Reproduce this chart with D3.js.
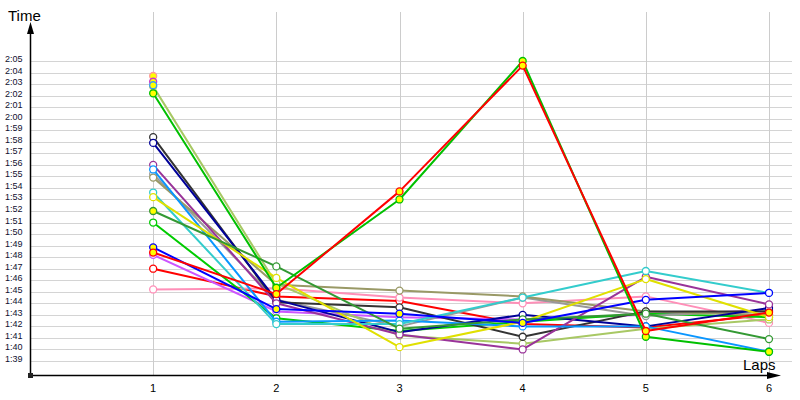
<!DOCTYPE html>
<html><head><meta charset="utf-8">
<script src="https://cdn.jsdelivr.net/npm/d3@7"></script>
<style>html,body{margin:0;padding:0;background:#fff;} svg{display:block;}</style>
</head><body><svg id="c" width="800" height="400"></svg>
<script>
// ---- data ----
const laps = [1, 2, 3, 4, 5, 6];
const yTickSeconds = d3.range(99, 126);          // 1:39 ... 2:05
const seriesNames = ["red2","pink","violet","limeHollow","gray","khaki","lightOlive","darkGray","navy","purple","dodger","cyan","yellow","forest","blue","orange","magenta","lightBlue","lime","red"];
const seriesColors = ["#ff0000","#ff8fb8","#cc55ff","#00cc00","#999999","#999966","#a8c864","#333333","#000099","#993399","#0a96ff","#33cccc","#e0e000","#339933","#0000ff","#ff9999","#cc33cc","#3399ff","#00c000","#ff0000"];
const seriesValues = [
  [107.0, 104.6, 104.2, 102.2, 101.9, 103.0],
  [105.2, 105.3, 104.5, 104.0, 104.6, 102.3],
  [108.2, 103.3, 102.8, 102.6, 103.0, 103.4],
  [111.0, 102.7, 101.6, 102.4, 103.1, 102.8],
  [115.2, 104.3, 102.0, 104.5, 102.9, 103.4],
  [114.9, 105.6, 105.1, 104.6, 103.3, 103.0],
  [122.8, 105.7, 101.2, 100.5, 101.8, 102.6],
  [118.4, 104.1, 103.65, 101.1, 103.3, 103.3],
  [117.9, 104.3, 101.5, 103.0, 102.0, 103.6],
  [116.0, 104.0, 101.3, 100.0, 106.3, 103.9],
  [115.6, 102.4, 102.5, 102.0, 102.0, 99.8],
  [113.6, 102.2, 102.2, 104.5, 106.8, 104.9],
  [113.2, 106.2, 100.2, 102.4, 106.1, 102.8],
  [112.0, 107.2, 101.8, 102.6, 103.1, 100.9],
  [108.85, 103.5, 103.1, 102.3, 104.3, 104.9],
  [123.7],
  [123.2],
  [122.9],
  [122.2, 105.35, 113.0, 125.0, 101.1, 99.8],
  [108.4, 104.8, 113.7, 124.6, 101.6, 103.2]
];
// lap indices whose marker is filled yellow
const highlightedLaps = [[],[],[],[],[],[],[],[],[],[],[],[],[],[0],[0,1,2,3],[0],[0],[0],[0,1,2,3,4,5],[0,1,2,3,4,5]];
const xTickLabels = ["1","2","3","4","5","6"];

// ---- layout ----
const svg = d3.select("#c");
const x0 = 30, yAxisY = 375;
const x = d3.scaleLinear().domain([0, 6]).range([x0, 769]);
const y = d3.scaleLinear().domain([99, 125]).range([361, 61]);
const fmt = s => Math.floor(s / 60) + ":" + String(s % 60).padStart(2, "0");

// grid
svg.append("g").selectAll("line").data(yTickSeconds).join("line")
  .attr("x1", x0 + 1).attr("x2", 792)
  .attr("y1", d => Math.round(y(d)) + 0.5).attr("y2", d => Math.round(y(d)) + 0.5)
  .attr("stroke", "#d4d4d4").attr("stroke-width", 1);
svg.append("g").selectAll("line").data(laps).join("line")
  .attr("x1", d => Math.round(x(d)) + 0.5).attr("x2", d => Math.round(x(d)) + 0.5)
  .attr("y1", 12).attr("y2", yAxisY)
  .attr("stroke", "#cccccc").attr("stroke-width", 1);

// y tick labels
svg.append("g").selectAll("text").data(yTickSeconds).join("text")
  .attr("x", 5).attr("y", d => Math.round(y(d)) + 0.5)
  .attr("font-family", "Liberation Sans, Arial, sans-serif").attr("font-size", 9)
  .attr("fill", "#101030").text(fmt);

// x tick labels
svg.append("g").selectAll("text").data(laps).join("text")
  .attr("x", d => x(d)).attr("y", 392).attr("text-anchor", "middle")
  .attr("font-family", "Liberation Sans, Arial, sans-serif").attr("font-size", 11)
  .attr("fill", "#000").text((d, i) => xTickLabels[i]);

// axes
svg.append("line").attr("x1", x0 + 0.5).attr("x2", x0 + 0.5).attr("y1", 30).attr("y2", yAxisY)
  .attr("stroke", "#000").attr("stroke-width", 1.5);
svg.append("line").attr("x1", x0).attr("x2", 772).attr("y1", yAxisY + 0.5).attr("y2", yAxisY + 0.5)
  .attr("stroke", "#000").attr("stroke-width", 1.5);
svg.append("path").attr("d", `M${x0 + 0.5},22 L${x0 - 3},34 L${x0 + 4},34 Z`).attr("fill", "#000");
svg.append("path").attr("d", `M781,${yAxisY + 0.5} L767,${yAxisY - 3} L767,${yAxisY + 4} Z`).attr("fill", "#000");
svg.append("rect").attr("x", x0 - 2).attr("y", yAxisY - 2).attr("width", 5).attr("height", 5).attr("fill", "#222");

svg.append("text").attr("x", 8).attr("y", 21).attr("font-family", "Liberation Sans, Arial, sans-serif")
  .attr("font-size", 15).attr("fill", "#000").text("Time");
svg.append("text").attr("x", 743).attr("y", 370).attr("font-family", "Liberation Sans, Arial, sans-serif")
  .attr("font-size", 15).attr("fill", "#000").text("Laps");

// series
const line = d3.line().x((d, i) => x(laps[i])).y(d => y(d));
seriesValues.forEach((vals, si) => {
  const g = svg.append("g");
  if (vals.length > 1) {
    g.append("path").attr("d", line(vals)).attr("fill", "none")
      .attr("stroke", seriesColors[si]).attr("stroke-width", 2).attr("stroke-linejoin", "round");
  }
  g.selectAll("circle").data(vals).join("circle")
    .attr("cx", (d, i) => x(laps[i])).attr("cy", d => y(d)).attr("r", 3.5)
    .attr("fill", (d, i) => highlightedLaps[si].includes(i) ? "#ffff00" : "#fff")
    .attr("stroke", seriesColors[si]).attr("stroke-width", 1.3);
});
</script></body></html>
